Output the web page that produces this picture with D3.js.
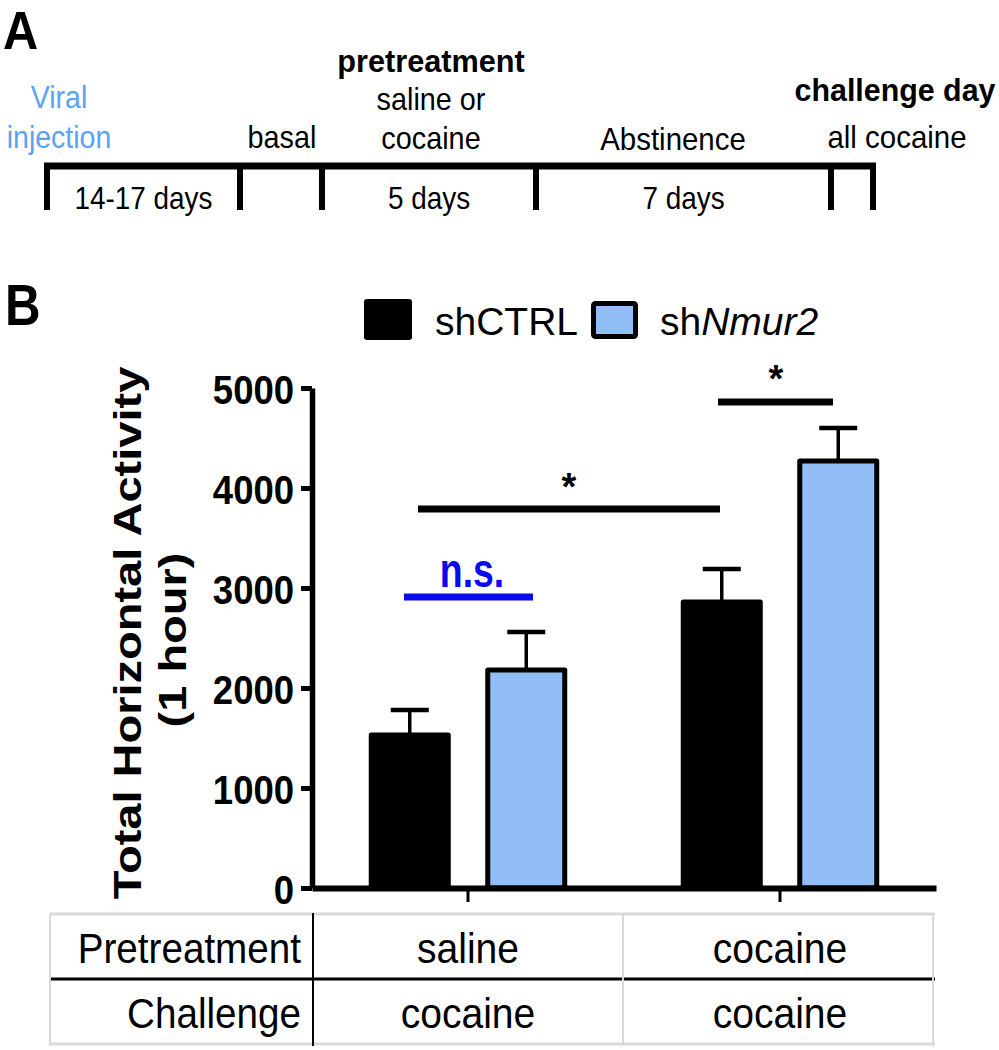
<!DOCTYPE html>
<html>
<head>
<meta charset="utf-8">
<script src="https://cdn.jsdelivr.net/npm/d3@7/dist/d3.min.js"></script>
<style>
  html, body { margin: 0; padding: 0; background: #fff; }
  svg { display: block; font-family: "Liberation Sans", Arial, sans-serif; }
</style>
</head>
<body>
<svg id="chart" width="999" height="1050"></svg>
<script>
// ---------------- DATA ----------------
const groups = ["saline", "cocaine"];                 // pretreatment
const challenge = ["cocaine", "cocaine"];             // challenge day
const series = ["shCTRL", "shNmur2"];
const meanCTRL = [1530, 2860];
const meanNmur2 = [2180, 4270];
const semCTRL = [250, 330];
const semNmur2 = [380, 330];
const yTicks = [0, 1000, 2000, 3000, 4000, 5000];
const sigLevels = [2910, 3790, 4860];
const sigLabels = ["n.s.", "*", "*"];
const phaseLabels = ["14-17 days", "", "5 days", "7 days", ""];

// ---------------- LAYOUT ----------------
const svg = d3.select("#chart");
const FONT = '"Liberation Sans", Arial, sans-serif';
const BLUE = "#92bef7";

function txt(x, y, s, o = {}) {
  const t = svg.append("text")
    .attr("transform", `translate(${x},${y}) scale(${o.sx || 1},1)`)
    .attr("font-size", o.size || 31)
    .attr("font-weight", o.weight || "normal")
    .attr("font-style", o.style || "normal")
    .attr("text-anchor", o.anchor || "middle")
    .attr("fill", o.fill || "#000")
    .text(s);
  return t;
}

// ---------- Panel A: timeline ----------
txt(3, 49, "A", {size: 53, weight: "bold", anchor: "start", sx: 0.92});
const tlY = 166, tlBottom = 210;
const tlX = [47, 240, 322, 536, 831, 873];
svg.append("line").attr("x1", tlX[0] - 3).attr("x2", tlX[tlX.length - 1] + 3)
  .attr("y1", tlY).attr("y2", tlY).attr("stroke", "#000").attr("stroke-width", 7);
svg.selectAll(".tlTick").data(tlX).join("line")
  .attr("x1", d => d).attr("x2", d => d).attr("y1", tlY).attr("y2", tlBottom)
  .attr("stroke", "#000").attr("stroke-width", 6);
phaseLabels.forEach((s, i) => {
  if (s) txt((tlX[i] + tlX[i + 1]) / 2, 209, s, {sx: 0.9});
});
txt(59, 108, "Viral", {fill: "#5aa2f2", sx: 0.92});
txt(59, 148, "injection", {fill: "#5aa2f2", sx: 0.92});
txt(282, 148, "basal", {sx: 0.93});
txt(431, 72, "pretreatment", {weight: "bold", sx: 0.99});
txt(431, 110, "saline or", {sx: 0.93});
txt(431, 149, "cocaine", {sx: 0.93});
txt(673, 150, "Abstinence", {sx: 0.95});
txt(895, 101, "challenge day", {weight: "bold", sx: 0.98});
txt(897, 148, "all cocaine", {sx: 0.95});

// ---------- Panel B ----------
txt(5, 325, "B", {size: 58, weight: "bold", anchor: "start", sx: 0.85});

const y = d3.scaleLinear().domain([0, 5000]).range([888, 388]);
const xG = d3.scaleBand().domain(groups).range([312, 936]).padding(0);
const xS = d3.scaleBand().domain(series).range([-96.75, 96.75]).paddingInner(0.339).paddingOuter(0);

// legend
svg.append("rect").attr("x", 364).attr("y", 299).attr("width", 48).attr("height", 41)
  .attr("rx", 3).attr("fill", "#000");
txt(435, 335, "shCTRL", {size: 39, anchor: "start"});
svg.append("rect").attr("x", 593.5).attr("y", 303.5).attr("width", 42).attr("height", 33)
  .attr("rx", 2).attr("fill", BLUE).attr("stroke", "#000").attr("stroke-width", 5);
const lt = txt(660, 335, "", {size: 39, anchor: "start"});
lt.append("tspan").text("sh");
lt.append("tspan").attr("font-style", "italic").text("Nmur2");

// y axis label
function vtxt(x, yy, s, size, sy) {
  svg.append("text")
    .attr("transform", `translate(${x},${yy}) rotate(-90) scale(1,${sy})`)
    .attr("font-size", size).attr("font-weight", "bold").attr("text-anchor", "middle")
    .text(s);
}
vtxt(141, 633, "Total Horizontal Activity", 47, 0.84);
vtxt(186, 640, "(1 hour)", 47, 0.84);

// bars
const rows = [];
groups.forEach((g, i) => {
  rows.push({g, s: series[0], v: meanCTRL[i], e: semCTRL[i], fill: "#000"});
  rows.push({g, s: series[1], v: meanNmur2[i], e: semNmur2[i], fill: BLUE});
});
const cx = d => xG(d.g) + xG.bandwidth() / 2 + xS(d.s) + xS.bandwidth() / 2;

// error bars (upper only)
svg.selectAll(".errV").data(rows).join("line")
  .attr("x1", cx).attr("x2", cx).attr("y1", d => y(d.v)).attr("y2", d => y(d.v + d.e))
  .attr("stroke", "#000").attr("stroke-width", 3.5);
svg.selectAll(".errC").data(rows).join("line")
  .attr("x1", d => cx(d) - 19).attr("x2", d => cx(d) + 19)
  .attr("y1", d => y(d.v + d.e)).attr("y2", d => y(d.v + d.e))
  .attr("stroke", "#000").attr("stroke-width", 4.5);

svg.selectAll(".bar").data(rows).join("rect")
  .attr("x", d => xG(d.g) + xG.bandwidth() / 2 + xS(d.s))
  .attr("y", d => y(d.v))
  .attr("width", xS.bandwidth())
  .attr("height", d => y(0) - y(d.v))
  .attr("fill", d => d.fill)
  .attr("stroke", "#000").attr("stroke-width", 5).attr("stroke-linejoin", "round");

// axes
const yAxis = svg.append("g").attr("transform", "translate(312,0)")
  .call(d3.axisLeft(y).tickValues(yTicks).tickSize(11).tickSizeOuter(0).tickFormat(d3.format("d")));
yAxis.select(".domain").attr("stroke-width", 5.5);
yAxis.selectAll(".tick line").attr("stroke-width", 5);
yAxis.selectAll(".tick text")
  .attr("x", null).attr("dy", null)
  .attr("transform", "translate(-18,15) scale(0.89,1)")
  .attr("font-family", FONT).attr("font-size", 41).attr("font-weight", "bold").attr("fill", "#000");

const xAxis = svg.append("g").attr("transform", `translate(0,${y(0)})`)
  .call(d3.axisBottom(xG).tickSize(14).tickSizeOuter(0).tickFormat(""));
xAxis.select(".domain").attr("stroke-width", 6);
xAxis.selectAll(".tick line").attr("stroke-width", 3);

// significance
const sigX = [[404, 533], [418, 720], [718, 833]];
const sigColor = ["#0a0af0", "#000", "#000"];
svg.selectAll(".sig").data(sigLevels).join("line")
  .attr("x1", (d, i) => sigX[i][0]).attr("x2", (d, i) => sigX[i][1])
  .attr("y1", d => y(d)).attr("y2", d => y(d))
  .attr("stroke", (d, i) => sigColor[i]).attr("stroke-width", 7);
txt(472, 587, sigLabels[0], {size: 48, weight: "bold", fill: sigColor[0], sx: 0.78});
txt(569, 500, sigLabels[1], {size: 38, weight: "bold"});
txt(776, 392, sigLabels[2], {size: 38, weight: "bold"});

// table
const tTop = 914, tMid = 979, tBot = 1044, tL = 50, tR = 935;
const gray = "#d9d9d9";
[[tTop, gray], [tBot, gray]].forEach(([yy, c]) => svg.append("line")
  .attr("x1", tL).attr("x2", tR).attr("y1", yy).attr("y2", yy).attr("stroke", c).attr("stroke-width", 3));
svg.append("line").attr("x1", tL).attr("x2", tR).attr("y1", tMid).attr("y2", tMid)
  .attr("stroke", "#000").attr("stroke-width", 3);
[tL, 623, 933].forEach(xx => svg.append("line").attr("x1", xx).attr("x2", xx)
  .attr("y1", tTop).attr("y2", tBot + 2).attr("stroke", gray).attr("stroke-width", 2));
svg.append("line").attr("x1", 313).attr("x2", 313).attr("y1", tTop - 1).attr("y2", tBot + 2)
  .attr("stroke", "#000").attr("stroke-width", 2);
txt(301, 963, "Pretreatment", {size: 42, anchor: "end", sx: 0.92});
txt(301, 1028, "Challenge", {size: 42, anchor: "end", sx: 0.92});
groups.forEach((g, i) => {
  const c = xG(g) + xG.bandwidth() / 2;
  txt(c, 963, g, {size: 42, sx: 0.93});
  txt(c, 1028, challenge[i], {size: 42, sx: 0.93});
});
</script>
</body>
</html>
